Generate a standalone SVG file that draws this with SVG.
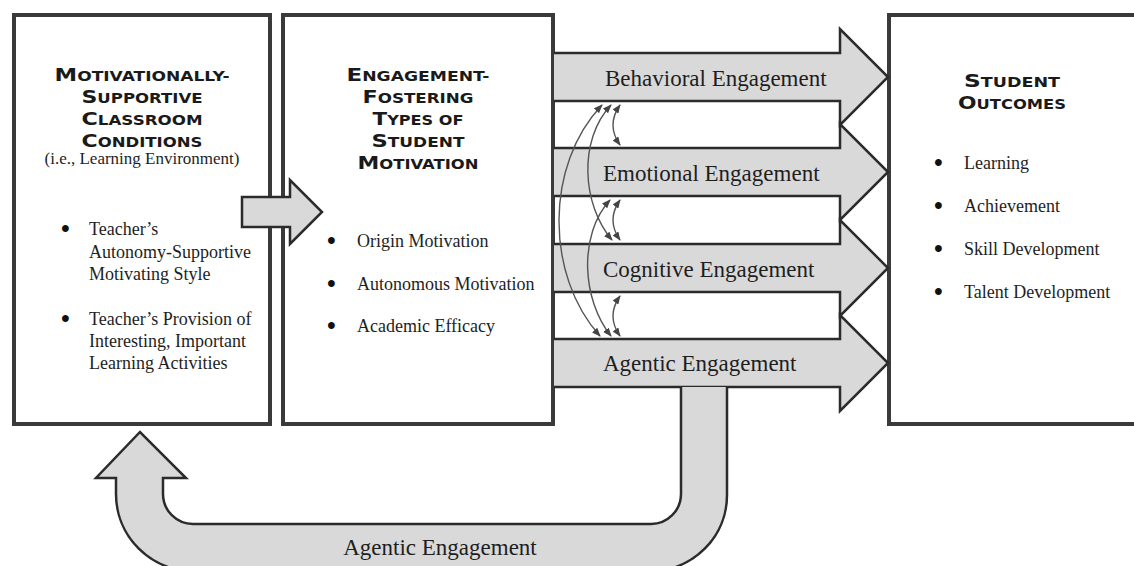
<svg xmlns="http://www.w3.org/2000/svg" width="1134" height="566" viewBox="0 0 1134 566">
<style>
.box{fill:#fff;stroke:#3a3a3a;stroke-width:4}
.arr{fill:#d9d9d9;stroke:#2b2b2b;stroke-width:2.5;stroke-linejoin:miter}
.ttl{font-family:"DejaVu Sans","Liberation Sans",sans-serif;font-weight:bold;fill:#1a1a1a;text-anchor:middle}
.ttl .b{font-size:18px}
.ttl .s{font-size:13.5px}
.tx{font-family:"Liberation Serif","Times New Roman",serif;font-size:18px;fill:#1e1e1e}
.bu{font-family:"Liberation Serif","Times New Roman",serif;font-size:25px;font-weight:bold;fill:#111}
.lbl{font-family:"Liberation Serif","Times New Roman",serif;font-size:23px;fill:#1e1e1e}
.cv{fill:none;stroke:#555;stroke-width:1.4;marker-start:url(#ah);marker-end:url(#ah)}
</style>
<defs>
<marker id="ah" markerUnits="userSpaceOnUse" markerWidth="9" markerHeight="7" refX="8" refY="3.5" orient="auto-start-reverse">
<path d="M0,0 L9,3.5 L0,7 z" fill="#444"/>
</marker>
</defs>
<rect width="1134" height="566" fill="#fff"/>

<g id="node-conditions">
<rect class="box" x="14" y="15" width="256" height="409"/>
<text class="ttl" x="142" y="81" textLength="175" lengthAdjust="spacingAndGlyphs"><tspan class="b">M</tspan><tspan class="s">OTIVATIONALLY-</tspan></text>
<text class="ttl" x="142" y="103" textLength="121" lengthAdjust="spacingAndGlyphs"><tspan class="b">S</tspan><tspan class="s">UPPORTIVE</tspan></text>
<text class="ttl" x="142" y="125" textLength="121" lengthAdjust="spacingAndGlyphs"><tspan class="b">C</tspan><tspan class="s">LASSROOM</tspan></text>
<text class="ttl" x="142" y="147" textLength="121" lengthAdjust="spacingAndGlyphs"><tspan class="b">C</tspan><tspan class="s">ONDITIONS</tspan></text>
<text class="tx" x="142" y="164" text-anchor="middle" style="font-size:17px">(i.e., Learning Environment)</text>
<text class="bu" x="61" y="237">•</text>
<text class="tx" x="89" y="235">Teacher’s</text>
<text class="tx" x="89" y="258">Autonomy-Supportive</text>
<text class="tx" x="89" y="280">Motivating Style</text>
<text class="bu" x="61" y="327">•</text>
<text class="tx" x="89" y="325">Teacher’s Provision of</text>
<text class="tx" x="89" y="347">Interesting, Important</text>
<text class="tx" x="89" y="369">Learning Activities</text>
</g>

<g id="node-motivation">
<rect class="box" x="283" y="15" width="270" height="409"/>
<text class="ttl" x="418" y="81" textLength="143" lengthAdjust="spacingAndGlyphs"><tspan class="b">E</tspan><tspan class="s">NGAGEMENT-</tspan></text>
<text class="ttl" x="418" y="103" textLength="111" lengthAdjust="spacingAndGlyphs"><tspan class="b">F</tspan><tspan class="s">OSTERING</tspan></text>
<text class="ttl" x="418" y="125" textLength="91" lengthAdjust="spacingAndGlyphs"><tspan class="b">T</tspan><tspan class="s">YPES OF</tspan></text>
<text class="ttl" x="418" y="147" textLength="93" lengthAdjust="spacingAndGlyphs"><tspan class="b">S</tspan><tspan class="s">TUDENT</tspan></text>
<text class="ttl" x="418" y="169" textLength="121" lengthAdjust="spacingAndGlyphs"><tspan class="b">M</tspan><tspan class="s">OTIVATION</tspan></text>
<text class="bu" x="327" y="249">•</text>
<text class="tx" x="357" y="247">Origin Motivation</text>
<text class="bu" x="327" y="292">•</text>
<text class="tx" x="357" y="290">Autonomous Motivation</text>
<text class="bu" x="327" y="334">•</text>
<text class="tx" x="357" y="332">Academic Efficacy</text>
</g>

<g id="node-outcomes">
<rect class="box" x="889" y="15" width="260" height="409"/>
<text class="ttl" x="1012" y="87" textLength="96" lengthAdjust="spacingAndGlyphs"><tspan class="b">S</tspan><tspan class="s">TUDENT</tspan></text>
<text class="ttl" x="1012" y="109" textLength="108" lengthAdjust="spacingAndGlyphs"><tspan class="b">O</tspan><tspan class="s">UTCOMES</tspan></text>
<text class="bu" x="934" y="171">•</text>
<text class="tx" x="964" y="169">Learning</text>
<text class="bu" x="934" y="214">•</text>
<text class="tx" x="964" y="212">Achievement</text>
<text class="bu" x="934" y="257">•</text>
<text class="tx" x="964" y="255">Skill Development</text>
<text class="bu" x="934" y="300">•</text>
<text class="tx" x="964" y="298">Talent Development</text>
</g>

<g id="connectors">
<path class="arr" d="M242,197 L290,197 L290,180 L322,212 L290,244 L290,227 L242,227 Z"/>

<path id="behavioral" class="arr" d="M554,53 L840,53 L840,29 L888,77 L840,125 L840,101 L554,101"/>
<path id="emotional" class="arr" d="M554,148 L840,148 L840,124 L888,172 L840,220 L840,196 L554,196"/>
<path id="cognitive" class="arr" d="M554,244 L840,244 L840,220 L888,268 L840,316 L840,292 L554,292"/>
<path id="agentic" class="arr" d="M554,339 L840,339 L840,315 L888,363 L840,411 L840,387 L554,387"/>

<path id="feedback" class="arr" d="M681,387 L681,494 A30,30 0 0 1 651,524 L193,524 A30,30 0 0 1 163,494 L163,478 L186,478 L140,432 L96,478 L116,478 L116,494 A77,77 0 0 0 193,571 L651,571 A76,76 0 0 0 727,495 L727,387"/>

<text class="lbl" x="605" y="86">Behavioral Engagement</text>
<text class="lbl" x="603" y="181">Emotional Engagement</text>
<text class="lbl" x="603" y="277">Cognitive Engagement</text>
<text class="lbl" x="603" y="371">Agentic Engagement</text>
<text class="lbl" x="440" y="555" text-anchor="middle">Agentic Engagement</text>

<path class="cv" d="M620,105 Q606,125 620,145"/>
<path class="cv" d="M620,200 Q606,220 620,240"/>
<path class="cv" d="M620,296 Q606,316 620,336"/>
<path class="cv" d="M611,105 C578,140 582,205 612,240"/>
<path class="cv" d="M610,200 C578,235 582,300 611,336"/>
<path class="cv" d="M602,105 C545,165 545,275 600,336"/>
</g>
</svg>
